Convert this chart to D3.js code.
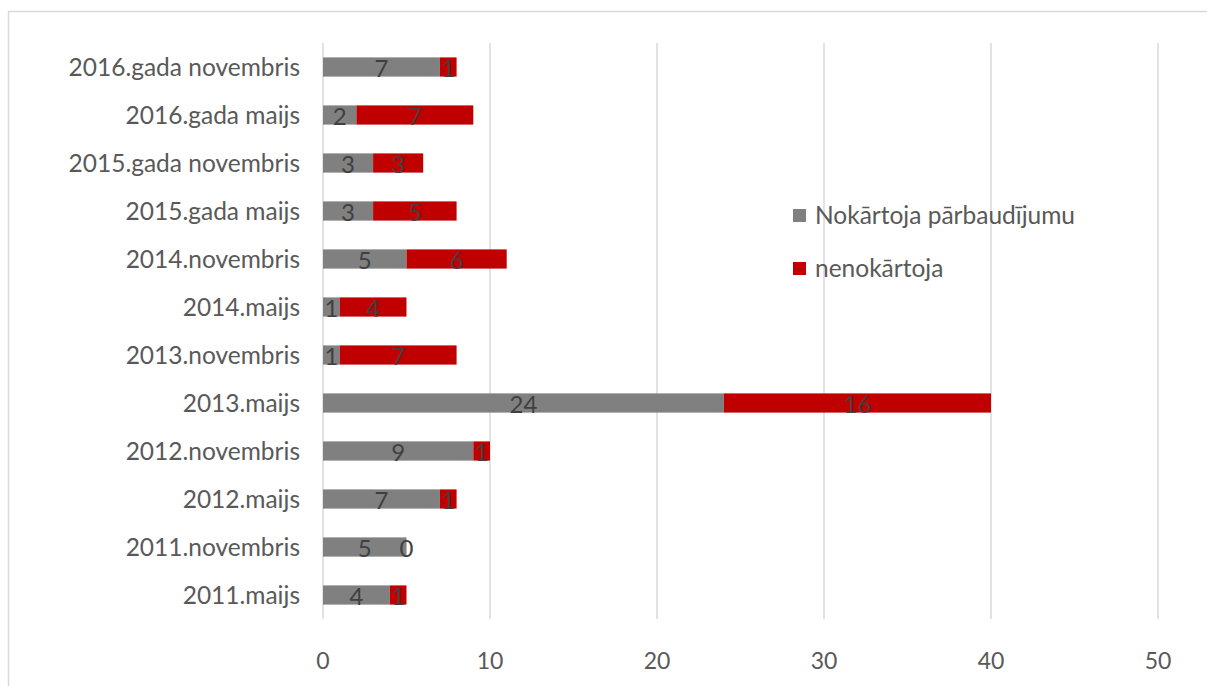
<!DOCTYPE html>
<html>
<head>
<meta charset="utf-8">
<script src="https://cdn.jsdelivr.net/npm/d3@7"></script>
<style>
  body { margin: 0; background: #fff; }
  text { font-family: Lato, "Open Sans", sans-serif; }
</style>
</head>
<body>
<div id="chart"></div>
<script>
let categories = ["2011.maijs", "2011.novembris", "2012.maijs", "2012.novembris", "2013.maijs",
  "2013.novembris", "2014.maijs", "2014.novembris", "2015.gada maijs", "2015.gada novembris",
  "2016.gada maijs", "2016.gada novembris"];
let passed = [4, 5, 7, 9, 24, 1, 1, 5, 3, 3, 2, 7];
let failed = [1, 0, 1, 1, 16, 7, 4, 6, 5, 3, 7, 1];
let seriesNames = ["Nokārtoja pārbaudījumu", "nenokārtoja"];
let xTicks = [0, 10, 20, 30, 40, 50];

let svgWidth = 1207;
let svgHeight = 686;

let svg = d3.select("#chart")
  .append("svg")
  .attr("width", svgWidth)
  .attr("height", svgHeight);

// chart border
svg.append("rect")
  .attr("x", 8.5).attr("y", 11.5)
  .attr("width", 1220).attr("height", 700)
  .attr("fill", "none")
  .attr("stroke", "#d9d9d9")
  .attr("stroke-width", 1.5);

let x = d3.scaleLinear().domain([0, 50]).range([323, 1158]);
let y = d3.scaleBand()
  .domain(categories.slice().reverse())
  .range([43, 619])
  .paddingInner(0.6)
  .paddingOuter(0.3);

// gridlines
svg.append("g").selectAll("line")
  .data(xTicks)
  .enter()
  .append("line")
  .attr("x1", d => x(d)).attr("x2", d => x(d))
  .attr("y1", 43).attr("y2", 619)
  .attr("stroke", "#d9d9d9")
  .attr("stroke-width", 1.5);

// x tick labels
svg.append("g").selectAll("text")
  .data(xTicks)
  .enter()
  .append("text")
  .attr("x", d => x(d))
  .attr("y", 669)
  .attr("text-anchor", "middle")
  .attr("fill", "#595959")
  .style("font-size", "23px")
  .text(d => d);

// category labels
svg.append("g").selectAll("text")
  .data(categories)
  .enter()
  .append("text")
  .attr("x", 300)
  .attr("y", d => y(d) + y.bandwidth() / 2)
  .attr("dy", "0.35em")
  .attr("text-anchor", "end")
  .attr("fill", "#595959")
  .style("font-size", "24.5px")
  .text(d => d);

let rows = categories.map((c, i) => ({ cat: c, a: passed[i], b: failed[i] }));

let bars = svg.append("g").selectAll("g")
  .data(rows)
  .enter()
  .append("g");

bars.append("rect")
  .attr("x", x(0))
  .attr("y", d => y(d.cat))
  .attr("width", d => x(d.a) - x(0))
  .attr("height", y.bandwidth())
  .attr("fill", "#808080");

bars.append("rect")
  .attr("x", d => x(d.a))
  .attr("y", d => y(d.cat))
  .attr("width", d => x(d.a + d.b) - x(d.a))
  .attr("height", y.bandwidth())
  .attr("fill", "#c00000");

bars.append("text")
  .attr("x", d => x(d.a / 2))
  .attr("y", d => y(d.cat) + y.bandwidth() / 2)
  .attr("dy", "0.4em")
  .attr("text-anchor", "middle")
  .attr("fill", "#404040")
  .style("font-size", "24px")
  .text(d => d.a);

bars.append("text")
  .attr("x", d => x(d.a + d.b / 2))
  .attr("y", d => y(d.cat) + y.bandwidth() / 2)
  .attr("dy", "0.4em")
  .attr("text-anchor", "middle")
  .attr("fill", "#404040")
  .style("font-size", "24px")
  .text(d => d.b);

// legend
let legend = svg.append("g").selectAll("g")
  .data(seriesNames)
  .enter()
  .append("g")
  .attr("transform", (d, i) => `translate(793, ${215 + i * 53})`);

legend.append("rect")
  .attr("x", 0).attr("y", -6)
  .attr("width", 13).attr("height", 13)
  .attr("fill", (d, i) => i === 0 ? "#808080" : "#c00000");

legend.append("text")
  .attr("x", 22)
  .attr("dy", "0.35em")
  .attr("fill", "#595959")
  .style("font-size", "24.5px")
  .text(d => d);
</script>
</body>
</html>
